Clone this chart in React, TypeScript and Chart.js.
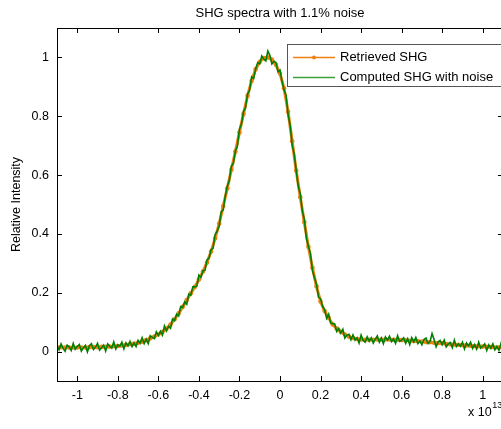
import { useEffect, useRef } from "react";
import { Chart, registerables } from "chart.js";

Chart.register(...registerables);

const TITLE = "SHG spectra with 1.1% noise";
const Y_LABEL = "Relative Intensity";
const X_SCALE_BASE = "x 10";
const X_SCALE_EXP = "13";
const LEGEND_LABELS = ["Retrieved SHG", "Computed SHG with noise"];

const X_TICKS = [-1, -0.8, -0.6, -0.4, -0.2, 0, 0.2, 0.4, 0.6, 0.8, 1];
const Y_TICKS = [0, 0.2, 0.4, 0.6, 0.8, 1];

// sampling grid (units of 1e13)
const X_START = -1.1;
const RETRIEVED_STEP = 0.02;
const NOISY_STEP = 0.01;

const RETRIEVED = [
  0.015, 0.015, 0.014, 0.014, 0.014, 0.014, 0.014, 0.014, 0.015, 0.015,
  0.015, 0.016, 0.016, 0.017, 0.018, 0.019, 0.021, 0.023, 0.025, 0.027,
  0.030, 0.034, 0.039, 0.045, 0.051, 0.058, 0.067, 0.078, 0.092, 0.110,
  0.130, 0.152, 0.175, 0.198, 0.220, 0.245, 0.272, 0.303, 0.340, 0.385,
  0.435, 0.495, 0.555, 0.618, 0.680, 0.745, 0.808, 0.870, 0.920, 0.960,
  0.985, 0.998, 1.000, 0.993, 0.975, 0.945, 0.895, 0.815, 0.715, 0.615,
  0.525, 0.440, 0.356, 0.285, 0.222, 0.170, 0.138, 0.115, 0.092, 0.078,
  0.067, 0.058, 0.051, 0.046, 0.043, 0.041, 0.040, 0.040, 0.040, 0.041,
  0.041, 0.041, 0.041, 0.040, 0.040, 0.039, 0.038, 0.037, 0.036, 0.035,
  0.034, 0.033, 0.032, 0.030, 0.029, 0.028, 0.026, 0.025, 0.024, 0.023,
  0.022, 0.021, 0.020, 0.019, 0.018, 0.017, 0.016, 0.015, 0.014, 0.014,
  0.013,
];

const NOISY = [
  0.021, 0.006, 0.026, 0.011, 0.001, 0.022, 0.016, 0.004, 0.028, 0.008,
  0.017, 0.024, 0.002, 0.013, 0.021, -0.001, 0.020, 0.027, 0.007, 0.015,
  0.028, 0.005, 0.013, 0.022, 0.002, 0.026, 0.018, 0.012, 0.033, 0.009,
  0.023, 0.018, 0.032, 0.009, 0.030, 0.019, 0.035, 0.017, 0.029, 0.017,
  0.038, 0.028, 0.047, 0.027, 0.042, 0.027, 0.054, 0.048, 0.044, 0.067,
  0.055, 0.069, 0.056, 0.087, 0.070, 0.086, 0.079, 0.111, 0.105, 0.127,
  0.121, 0.153, 0.150, 0.169, 0.161, 0.195, 0.192, 0.220, 0.220, 0.223,
  0.260, 0.252, 0.275, 0.276, 0.312, 0.318, 0.346, 0.352, 0.398, 0.409,
  0.427, 0.475, 0.482, 0.529, 0.562, 0.582, 0.630, 0.640, 0.682, 0.699,
  0.756, 0.774, 0.816, 0.829, 0.875, 0.889, 0.934, 0.928, 0.961, 0.982,
  0.978, 1.005, 0.994, 0.988, 1.022, 1.007, 0.978, 0.987, 0.983, 0.951,
  0.957, 0.918, 0.889, 0.871, 0.805, 0.769, 0.702, 0.672, 0.615, 0.562,
  0.536, 0.478, 0.449, 0.386, 0.358, 0.335, 0.276, 0.251, 0.229, 0.185,
  0.180, 0.153, 0.143, 0.113, 0.127, 0.097, 0.095, 0.094, 0.068, 0.079,
  0.063, 0.076, 0.046, 0.056, 0.059, 0.040, 0.057, 0.039, 0.047, 0.029,
  0.056, 0.038, 0.032, 0.050, 0.035, 0.047, 0.029, 0.042, 0.053, 0.032,
  0.046, 0.027, 0.050, 0.039, 0.052, 0.034, 0.043, 0.028, 0.054, 0.035,
  0.039, 0.047, 0.028, 0.044, 0.024, 0.047, 0.033, 0.048, 0.027, 0.036,
  0.023, 0.041, 0.046, 0.027, 0.034, 0.061, 0.041, 0.016, 0.033, 0.038,
  0.024, 0.039, 0.016, 0.026, 0.031, 0.013, 0.039, 0.017, 0.026, 0.018,
  0.032, 0.009, 0.029, 0.019, 0.032, 0.011, 0.024, 0.008, 0.032, 0.012,
  0.018, 0.026, 0.004, 0.023, 0.012, 0.026, 0.006, 0.018, 0.004, 0.027,
  0.008,
];

const ORANGE = "rgb(240,128,16)";
const GREEN = "rgb(0,128,0)";
const FONT = '"Liberation Sans", Arial, Helvetica, sans-serif';

const decorPlugin = {
  id: "decor",
  afterDraw(chart: any) {
    const { ctx, chartArea: a, scales } = chart;
    const x = scales.x;
    const y = scales.y;
    ctx.save();
    ctx.strokeStyle = "#000";
    ctx.lineWidth = 1;
    ctx.strokeRect(Math.round(a.left) + 0.5, Math.round(a.top) + 0.5, Math.round(a.right - a.left), Math.round(a.bottom - a.top));
    ctx.beginPath();
    X_TICKS.forEach((v) => {
      const px = Math.round(x.getPixelForValue(v)) + 0.5;
      ctx.moveTo(px, a.bottom);
      ctx.lineTo(px, a.bottom - 5);
      ctx.moveTo(px, a.top);
      ctx.lineTo(px, a.top + 5);
    });
    Y_TICKS.forEach((v) => {
      const py = Math.round(y.getPixelForValue(v)) + 0.5;
      ctx.moveTo(a.left, py);
      ctx.lineTo(a.left + 5, py);
      ctx.moveTo(a.right, py);
      ctx.lineTo(a.right - 5, py);
    });
    ctx.stroke();

    ctx.fillStyle = "#000";
    // title
    ctx.font = `13px ${FONT}`;
    ctx.textAlign = "center";
    ctx.textBaseline = "alphabetic";
    ctx.fillText(TITLE, (a.left + a.right) / 2, 17);

    // y label
    ctx.save();
    ctx.translate(17, (a.top + a.bottom) / 2);
    ctx.rotate(-Math.PI / 2);
    ctx.font = `12.5px ${FONT}`;
    ctx.textBaseline = "middle";
    ctx.fillText(Y_LABEL, 0, 0);
    ctx.restore();

    // x exponent
    ctx.textAlign = "left";
    ctx.textBaseline = "alphabetic";
    ctx.font = `12.5px ${FONT}`;
    ctx.fillText(X_SCALE_BASE, 468, 416);
    const w = ctx.measureText(X_SCALE_BASE).width;
    ctx.font = `9px ${FONT}`;
    ctx.fillText(X_SCALE_EXP, 468 + w + 0.5, 408);

    // legend
    const lx = 287;
    const ly = 44;
    ctx.fillStyle = "#fff";
    ctx.fillRect(lx, ly, 260, 42);
    ctx.strokeStyle = "#555";
    ctx.strokeRect(lx + 0.5, ly + 0.5, 260, 42);
    ctx.lineWidth = 1.5;
    ctx.strokeStyle = ORANGE;
    ctx.beginPath();
    ctx.moveTo(293, 57.5);
    ctx.lineTo(335, 57.5);
    ctx.stroke();
    ctx.fillStyle = ORANGE;
    ctx.beginPath();
    ctx.arc(314, 57.5, 2, 0, Math.PI * 2);
    ctx.fill();
    ctx.strokeStyle = "rgb(60,160,60)";
    ctx.beginPath();
    ctx.moveTo(293, 77.5);
    ctx.lineTo(335, 77.5);
    ctx.stroke();
    ctx.fillStyle = "#000";
    ctx.font = `13px ${FONT}`;
    ctx.textBaseline = "middle";
    ctx.fillText(LEGEND_LABELS[0], 340, 57);
    ctx.fillText(LEGEND_LABELS[1], 340, 77);
    ctx.restore();
  },
};

export default function App() {
  const ref = useRef<HTMLCanvasElement | null>(null);

  useEffect(() => {
    if (!ref.current) return;
    const retrieved = RETRIEVED.map((v, i) => ({ x: X_START + i * RETRIEVED_STEP, y: v }));
    const noisy = NOISY.map((v, i) => ({ x: X_START + i * NOISY_STEP, y: v }));
    const fmt = (v: number) => String(Math.round(v * 10) / 10);
    const chart = new Chart(ref.current, {
      type: "line",
      data: {
        datasets: [
          {
            label: LEGEND_LABELS[1],
            data: noisy,
            borderColor: GREEN,
            borderWidth: 1.6,
            pointRadius: 0,
            tension: 0,
            order: 0,
          },
          {
            label: LEGEND_LABELS[0],
            data: retrieved,
            borderColor: ORANGE,
            backgroundColor: ORANGE,
            borderWidth: 3,
            pointRadius: 2.3,
            pointBorderWidth: 0,
            tension: 0,
            order: 1,
          },
        ],
      },
      options: {
        animation: false,
        responsive: false,
        devicePixelRatio: 1,
        layout: { padding: { left: 0, top: 28, right: 17, bottom: 0 } },
        plugins: {
          legend: { display: false },
          title: { display: false },
          tooltip: { enabled: false },
        },
        scales: {
          x: {
            type: "linear",
            min: -1.1,
            max: 1.1,
            grid: { display: false, drawTicks: false },
            border: { display: false },
            afterBuildTicks: (s: any) => {
              s.ticks = X_TICKS.map((v) => ({ value: v }));
            },
            afterFit: (s: any) => {
              s.height = 48;
            },
            ticks: {
              padding: 7,
              color: "#000",
              font: { family: FONT, size: 12.5 },
              maxRotation: 0,
              autoSkip: false,
              callback: (v: any) => fmt(Number(v)),
            },
          },
          y: {
            type: "linear",
            min: -0.1,
            max: 1.1,
            grid: { display: false, drawTicks: false },
            border: { display: false },
            afterBuildTicks: (s: any) => {
              s.ticks = Y_TICKS.map((v) => ({ value: v }));
            },
            afterFit: (s: any) => {
              s.width = 57;
            },
            ticks: {
              padding: 8,
              color: "#000",
              font: { family: FONT, size: 12.5 },
              autoSkip: false,
              callback: (v: any) => fmt(Number(v)),
            },
          },
        },
      },
      plugins: [decorPlugin],
    });
    return () => chart.destroy();
  }, []);

  return (
    <div style={{ position: "fixed", left: 0, top: 0, width: 501, height: 429, overflow: "hidden", background: "#fff" }}>
      <canvas ref={ref} width={520} height={429} style={{ width: 520, height: 429, display: "block" }} />
    </div>
  );
}
